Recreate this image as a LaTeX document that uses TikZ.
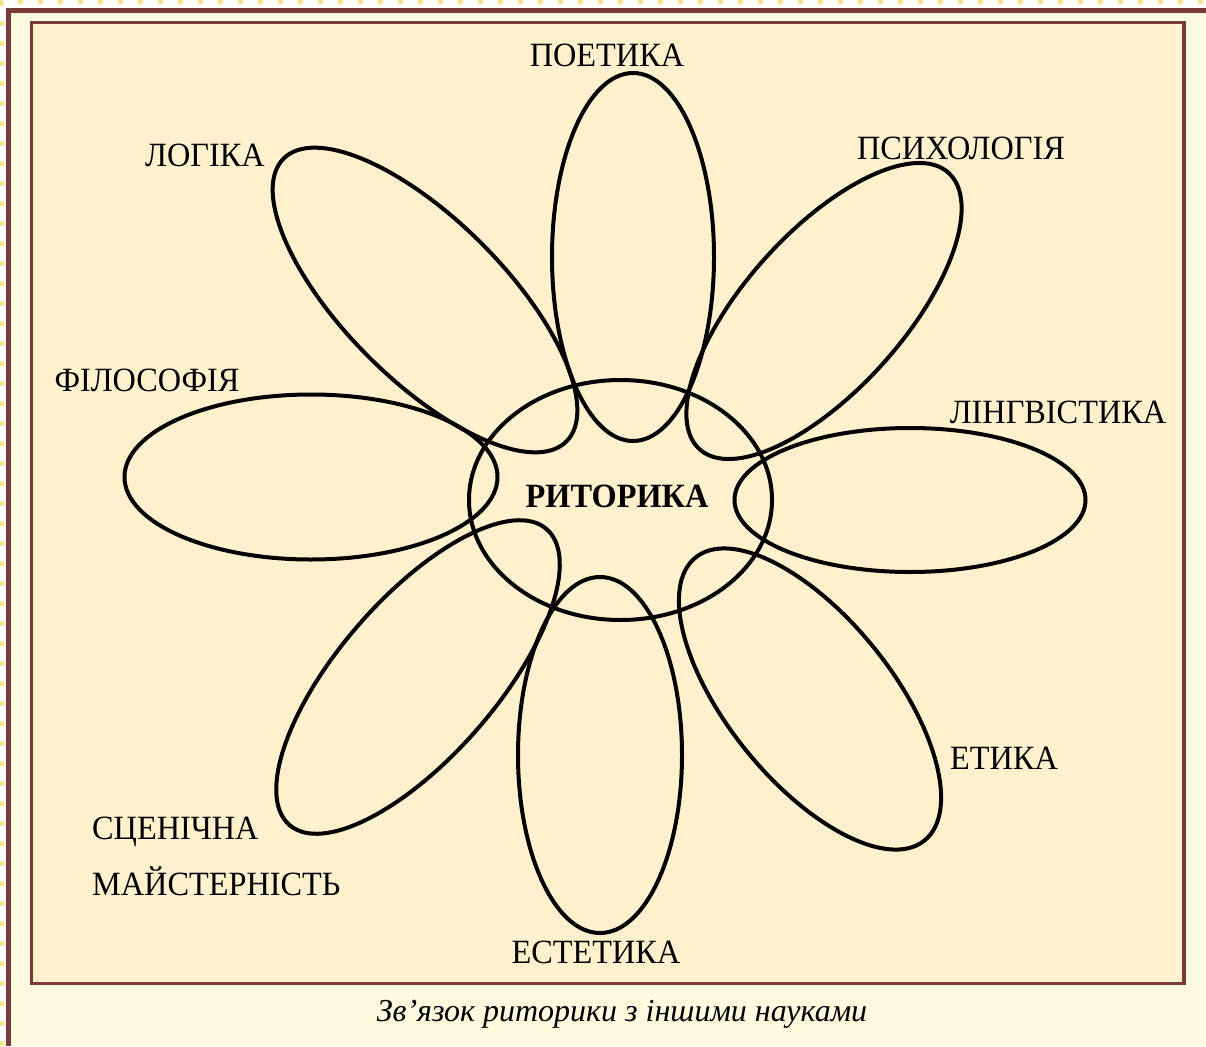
\documentclass[tikz,border=0pt]{standalone}
\usepackage{fontspec}
\setmainfont{Liberation Serif}[FakeStretch=0.95]
\newfontfamily\capfont{Liberation Serif}
\usetikzlibrary{shapes.geometric}
\definecolor{framebrown}{RGB}{125,58,58}
\definecolor{outerfill}{RGB}{253,251,223}
\definecolor{innerfill}{RGB}{255,241,205}
\definecolor{dotyellow}{RGB}{248,228,140}
\begin{document}
\begin{tikzpicture}[x=1pt,y=-1pt,
  petal/.style={draw=black,line width=4pt,ellipse,inner sep=0pt,outer sep=0pt},
  lbl/.style={font=\fontsize{34}{40}\selectfont,inner sep=0pt,text=black},
]
\useasboundingbox (0,0) rectangle (1206,1046);
\fill[white] (0,0) rectangle (1206,1046);
% dotted page edge
\draw[dotyellow,line width=4pt,dash pattern=on 5pt off 15pt] (2,1046) -- (2,2) -- (1206,2);
% outer frame (top and left visible)
\fill[outerfill] (8.5,10.5) rectangle (1206,1046);
\draw[framebrown,line width=5pt] (8.5,1046) -- (8.5,10.5) -- (1206,10.5);
% inner frame
\draw[framebrown,line width=3.5pt,fill=innerfill] (31.5,22.5) rectangle (1184,983.5);

% petals
\node[petal,minimum width=303pt,minimum height=240pt] (center) at (620.5,500) {};
\node[petal,minimum width=162pt,minimum height=368pt] (poet) at (633,257) {};
\node[petal,minimum width=164pt,minimum height=356pt] (est) at (600,755) {};
\node[petal,minimum width=373pt,minimum height=165pt] (phil) at (311,477) {};
\node[petal,minimum width=351pt,minimum height=144pt] (ling) at (910,500) {};
\node[petal,minimum width=400pt,minimum height=160pt,rotate=-45] (logic) at (425,300) {};
\node[petal,minimum width=372pt,minimum height=158pt,rotate=48] (psych) at (824,311) {};
\node[petal,minimum width=364pt,minimum height=164pt,rotate=-51] (eth) at (810,699) {};
\node[petal,minimum width=392pt,minimum height=158pt,rotate=49] (stage) at (418,677) {};

% labels
\node[lbl] (tpoet) at (607,55) {ПОЕТИКА};
\node[lbl] (tlogic) at (205,155) {ЛОГІКА};
\node[lbl] (tpsych) at (961,148) {ПСИХОЛОГІЯ};
\node[lbl] (tphil) at (147,380) {ФІЛОСОФІЯ};
\node[lbl] (tling) at (1058,412) {ЛІНГВІСТИКА};
\node[lbl,font=\fontsize{34}{40}\selectfont\bfseries] (tcenter) at (617,496) {РИТОРИКА};
\node[lbl] (teth) at (1004,758) {ЕТИКА};
\node[lbl,anchor=west] (tstage1) at (92,832) {СЦЕНІЧНА};
\node[lbl,anchor=west] (tstage2) at (92,881) {МАЙСТЕРНІСТЬ};
\node[lbl] (test) at (596,952) {ЕСТЕТИКА};
\node[lbl,font=\capfont\fontsize{32}{38}\selectfont\itshape] (caption) at (622,1014) {Зв’язок риторики з іншими науками};
\end{tikzpicture}
\end{document}
